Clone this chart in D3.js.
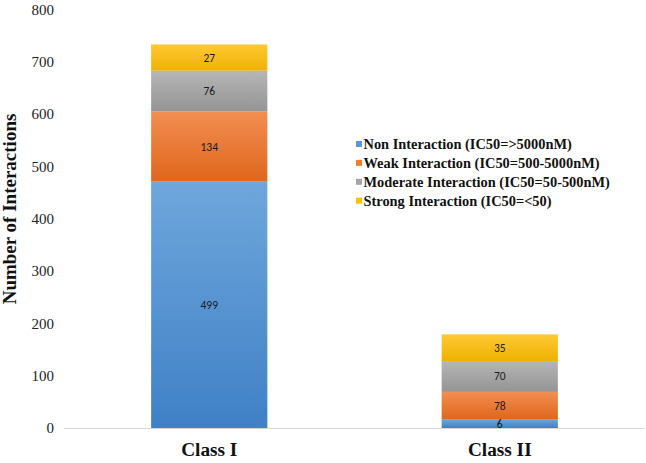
<!DOCTYPE html>
<html>
<head>
<meta charset="utf-8">
<script src="https://cdn.jsdelivr.net/npm/d3@7"></script>
<style>
  body { margin: 0; background: #fff; }
  svg { display: block; }
</style>
</head>
<body>
<svg id="chart"></svg>
<script>
// Chart data
const classes = ['Class I', 'Class II'];
const seriesNames = [
    'Non Interaction (IC50=>5000nM)',
    'Weak Interaction (IC50=500-5000nM)',
    'Moderate Interaction (IC50=50-500nM)',
    'Strong Interaction (IC50=<50)'
];
// segment heights as drawn in the picture
const nonValues = [471, 17];
const weakValues = [134, 52];
const moderateValues = [78, 59];
const strongValues = [50, 51];
// data labels as printed on the bars
const nonLabels = ['499', '6'];
const weakLabels = ['134', '78'];
const moderateLabels = ['76', '70'];
const strongLabels = ['27', '35'];
const yTicks = [0, 100, 200, 300, 400, 500, 600, 700, 800];

const width = 646;
const height = 463;
const serif = '"Liberation Serif", "Times New Roman", serif';

const svg = d3.select('#chart')
    .attr('width', width)
    .attr('height', height);

// Gradient fills: lighter on top, darker at bottom
const gradients = [
    { id: 'g0', top: '#6fa7dc', bottom: '#3f80c6' },
    { id: 'g1', top: '#f28e52', bottom: '#e0661b' },
    { id: 'g2', top: '#b6b6b6', bottom: '#949494' },
    { id: 'g3', top: '#ffc935', bottom: '#efb100' }
];
const defs = svg.append('defs');
gradients.forEach(g => {
    const lg = defs.append('linearGradient')
        .attr('id', g.id)
        .attr('x1', 0).attr('y1', 0)
        .attr('x2', 0).attr('y2', 1);
    lg.append('stop').attr('offset', '0%').attr('stop-color', g.top);
    lg.append('stop').attr('offset', '100%').attr('stop-color', g.bottom);
});
const legendColors = ['#5b9bd5', '#ed7d31', '#a5a5a5', '#ffc000'];

// Scales
const y = d3.scaleLinear()
    .domain([0, 800])
    .range([428, 9.4]);

const x = d3.scaleBand()
    .domain(classes)
    .range([64, 645])
    .paddingInner(0.6)
    .paddingOuter(0.3);

// Stack the series
const rows = classes.map((c, i) => ({
    cls: c,
    s0: nonValues[i], s1: weakValues[i], s2: moderateValues[i], s3: strongValues[i]
}));
const labelSets = [nonLabels, weakLabels, moderateLabels, strongLabels];
const stacked = d3.stack().keys(['s0', 's1', 's2', 's3'])(rows);

// Y axis labels (no line, no ticks)
const yAxis = d3.axisLeft(y)
    .tickValues(yTicks)
    .tickSize(0)
    .tickPadding(0)
    .tickFormat(d3.format('d'));
const yAxisG = svg.append('g')
    .attr('transform', 'translate(54,0)')
    .call(yAxis);
yAxisG.select('.domain').remove();
yAxisG.selectAll('text')
    .attr('font-family', serif)
    .attr('font-size', 15)
    .attr('fill', '#222');

// Bars
stacked.forEach((layer, li) => {
    svg.append('g')
        .selectAll('rect')
        .data(layer)
        .enter()
        .append('rect')
        .attr('x', d => x(d.data.cls))
        .attr('y', d => y(d[1]))
        .attr('width', x.bandwidth())
        .attr('height', d => y(d[0]) - y(d[1]))
        .attr('fill', `url(#g${li})`);
});

// Baseline
svg.append('line')
    .attr('x1', 64)
    .attr('x2', 645)
    .attr('y1', y(0) + 0.5)
    .attr('y2', y(0) + 0.5)
    .attr('stroke', '#d9d9d9')
    .attr('stroke-width', 1);

// Data labels
stacked.forEach((layer, li) => {
    svg.append('g')
        .selectAll('text')
        .data(layer)
        .enter()
        .append('text')
        .attr('x', d => x(d.data.cls) + x.bandwidth() / 2)
        .attr('y', d => (y(d[0]) + y(d[1])) / 2)
        .attr('dy', '0.35em')
        .attr('text-anchor', 'middle')
        .attr('font-family', 'Carlito, "Liberation Sans", Arial, sans-serif')
        .attr('font-size', 11.5)
        .attr('fill', '#1a1a1a')
        .text((d, i) => labelSets[li][i]);
});

// Category labels
const xAxis = d3.axisBottom(x).tickSize(0).tickPadding(0);
const xAxisG = svg.append('g')
    .attr('transform', 'translate(0,456)')
    .call(xAxis);
xAxisG.select('.domain').remove();
xAxisG.selectAll('text')
    .attr('dy', 0)
    .attr('font-family', serif)
    .attr('font-weight', 'bold')
    .attr('font-size', 19.3)
    .attr('fill', '#111');

// Y axis title
svg.append('text')
    .attr('transform', 'translate(16,209) rotate(-90)')
    .attr('text-anchor', 'middle')
    .attr('font-family', serif)
    .attr('font-weight', 'bold')
    .attr('font-size', 19)
    .attr('fill', '#111')
    .text('Number of Interactions');

// Legend
const legend = svg.append('g')
    .attr('transform', 'translate(356,144)');
seriesNames.forEach((name, i) => {
    const row = legend.append('g')
        .attr('transform', `translate(0,${i * 18.9})`);
    row.append('rect')
        .attr('x', 0)
        .attr('y', -3)
        .attr('width', 6)
        .attr('height', 6)
        .attr('fill', legendColors[i]);
    row.append('text')
        .attr('x', 7.5)
        .attr('y', 0)
        .attr('dy', '0.35em')
        .attr('font-family', serif)
        .attr('font-weight', 'bold')
        .attr('font-size', 14.4)
        .attr('fill', '#111')
        .text(name);
});
</script>
</body>
</html>
